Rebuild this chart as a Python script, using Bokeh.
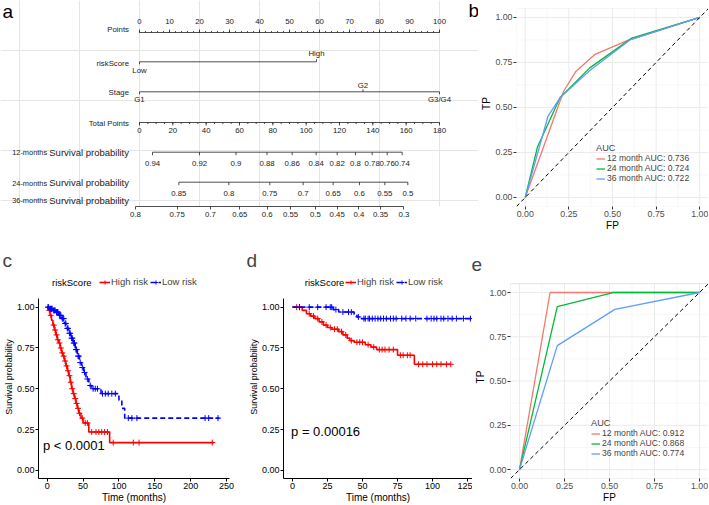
import numpy as np
from bokeh.plotting import figure
from bokeh.models import (Range1d, FixedTicker, PrintfTickFormatter, Legend, LegendItem,
                          Label, Slope, LinearAxis, BoxAnnotation)
from bokeh.layouts import row, column
from bokeh.embed import file_html
from bokeh.resources import INLINE
from bokeh.core.properties import value

SANS = "Liberation Sans"
INK = "#222222"

# ---------------- data: nomogram (a) ----------------
points_ticks = [0, 10, 20, 30, 40, 50, 60, 70, 80, 90, 100]
points_minor = list(range(0, 101, 2))
risk_levels = ["Low", "High"]
risk_points = [0, 59]
stage_levels = ["G1", "G2", "G3/G4"]
stage_points = [0, 74.5, 100]
total_ticks = [0, 20, 40, 60, 80, 100, 120, 140, 160, 180]
total_minor = list(range(0, 181, 5))
surv12_labels = ["0.94", "0.92", "0.9", "0.88", "0.86", "0.84", "0.82", "0.8", "0.78", "0.76", "0.74"]
surv12_total = [7.8, 36.0, 57.9, 76.5, 91.6, 106.0, 118.6, 129.6, 139.6, 148.6, 157.6]
surv24_labels = ["0.85", "0.8", "0.75", "0.7", "0.65", "0.6", "0.55", "0.5"]
surv24_total = [23.6, 53.6, 78.2, 98.2, 116.2, 132.0, 147.2, 161.0]
surv36_labels = ["0.8", "0.75", "0.7", "0.65", "0.6", "0.55", "0.5", "0.45", "0.4", "0.35", "0.3"]
surv36_total = [-2.4, 22.6, 42.6, 60.2, 76.6, 90.6, 105.6, 118.6, 131.6, 144.6, 158.6]

# ---------------- data: ROC (b, e) ----------------
roc_ticks = [0, 0.25, 0.5, 0.75, 1.0]
roc_minor = [0.125, 0.375, 0.625, 0.875]
roc_colors = ["#F8766D", "#00BA38", "#619CFF"]
b_labels = ["12 month AUC: 0.736", "24 month AUC: 0.724", "36 month AUC: 0.722"]
b12_fp = [0, 0.22, 0.29, 0.40, 0.58, 1.0]
b12_tp = [0, 0.59, 0.70, 0.795, 0.87, 1.0]
b24_fp = [0, 0.07, 0.20, 0.37, 0.61, 1.0]
b24_tp = [0, 0.28, 0.555, 0.72, 0.885, 1.0]
b36_fp = [0, 0.13, 0.20, 0.37, 0.60, 1.0]
b36_tp = [0, 0.45, 0.555, 0.705, 0.875, 1.0]
e_labels = ["12 month AUC: 0.912", "24 month AUC: 0.868", "36 month AUC: 0.774"]
e12_fp = [0, 0.17, 1.0]
e12_tp = [0, 1.0, 1.0]
e24_fp = [0, 0.21, 0.52, 1.0]
e24_tp = [0, 0.92, 1.0, 1.0]
e36_fp = [0, 0.21, 0.53, 1.0]
e36_tp = [0, 0.70, 0.905, 1.0]

# ---------------- data: Kaplan-Meier (c, d) ----------------
km_yticks = [0, 0.25, 0.5, 0.75, 1.0]
c_xticks = [0, 50, 100, 150, 200, 250]
d_xticks = [0, 25, 50, 75, 100, 125]
group_labels = ["High risk", "Low risk"]

c_high_time = [0, 2, 4, 6, 8, 10, 12, 14, 16, 18, 20, 22, 24, 26, 28, 30, 32, 34, 36, 38,
               40, 42, 44, 47, 50, 58, 87, 232]
c_high_surv = [1.0, 0.98, 0.95, 0.92, 0.89, 0.86, 0.83, 0.80, 0.78, 0.75, 0.72, 0.70, 0.67,
               0.64, 0.61, 0.58, 0.54, 0.50, 0.47, 0.44, 0.41, 0.38, 0.35, 0.32, 0.29, 0.235,
               0.17, 0.17]
c_high_cens = [3, 5, 9, 11, 13, 15, 17, 19, 21, 23, 25, 27, 29, 31, 33, 35, 37, 39, 41, 43,
               45, 49, 53, 56, 62, 68, 72, 76, 80, 84, 92, 120, 128, 230]
c_low_time = [0, 3, 8, 12, 16, 20, 24, 27, 30, 33, 36, 39, 42, 45, 48, 51, 54, 58, 62, 75,
              100, 104, 108, 240]
c_low_surv = [1.0, 0.99, 0.98, 0.97, 0.95, 0.93, 0.90, 0.87, 0.84, 0.81, 0.78, 0.74, 0.70,
              0.66, 0.63, 0.60, 0.56, 0.52, 0.50, 0.47, 0.43, 0.38, 0.32, 0.32]
c_low_cens = [1, 2, 4, 5, 6, 7, 9, 10, 11, 13, 14, 15, 17, 18, 19, 21, 22, 23, 25, 26, 28,
              29, 31, 32, 34, 35, 37, 38, 40, 41, 43, 44, 46, 49, 52, 56, 60, 64, 67, 70, 77,
              81, 85, 90, 95, 113, 118, 125, 220, 225, 238]

d_high_time = [0, 7, 10, 13, 16, 19, 22, 25, 28, 33, 36, 39, 41, 44, 52, 56, 60, 75, 87, 113]
d_high_surv = [1.0, 0.98, 0.96, 0.945, 0.93, 0.91, 0.89, 0.875, 0.865, 0.85, 0.83, 0.81,
               0.795, 0.785, 0.77, 0.755, 0.74, 0.705, 0.65, 0.65]
d_high_cens = [3, 5, 12, 15, 18, 21, 24, 27, 30, 32, 35, 38, 42, 46, 48, 50, 54, 58, 62, 64,
               66, 69, 72, 77, 79, 82, 84, 90, 93, 96, 100, 103, 106, 110, 113]
d_low_time = [0, 29, 33, 44, 46, 49, 127]
d_low_surv = [1.0, 0.985, 0.97, 0.955, 0.94, 0.93, 0.93]
d_low_cens = [5, 12, 18, 24, 27, 28, 31, 36, 40, 42, 47, 51, 52, 54, 55, 57, 59, 61, 63, 65,
              67, 70, 72, 74, 78, 81, 84, 88, 96, 99, 101, 103, 106, 108, 111, 114, 117,
              122, 127]


def surv_at(times, surv, t):
    idx = np.searchsorted(np.asarray(times), np.asarray(t), side="right") - 1
    return list(np.asarray(surv)[idx])


# ======================= panel a: nomogram =======================
nom = figure(width=478, height=234, x_range=Range1d(-46.333, 113.0), y_range=Range1d(206, 0),
             x_axis_location=None, y_axis_location=None, min_border_left=0,
             min_border_right=0, min_border_top=0, min_border_bottom=28,
             output_backend="svg", toolbar_location=None)
nom.outline_line_color = None
nom.extra_x_ranges = {"total": Range1d(-46.333 * 1.8, 113.0 * 1.8)}


def nomo_line(xs, y, rng="default"):
    nom.segment(x0=[min(xs)], x1=[max(xs)], y0=[y], y1=[y], line_color=INK,
                line_width=0.8, x_range_name=rng)


def nomo_ticks(xs, y, d, rng="default"):
    nom.segment(x0=xs, x1=xs, y0=[y] * len(xs), y1=[y + d] * len(xs), line_color=INK,
                line_width=0.8, x_range_name=rng)


def nomo_labels(xs, ys, labels, rng="default", align="center", size="7.8px"):
    nom.text(x=xs, y=ys, text=labels, text_align=align, x_range_name=rng,
             text_font=value(SANS), text_font_size=size, text_color=INK,
             text_baseline="middle")


# Points row
nomo_line(points_ticks, 32)
nomo_ticks(points_ticks, 32, -3)
nomo_ticks(points_minor, 32, -1.5)
nomo_labels(points_ticks, [20.5] * len(points_ticks), [str(v) for v in points_ticks])
# riskScore row
nomo_line(risk_points, 61.3)
nomo_ticks([risk_points[0]], 61.3, 2.5)
nomo_ticks([risk_points[1]], 61.3, -2.5)
nomo_labels(risk_points, [70, 52.5], risk_levels)
# Stage row
nomo_line(stage_points, 91.3)
nomo_ticks([stage_points[0], stage_points[2]], 91.3, 2.5)
nomo_ticks([stage_points[1]], 91.3, -2.5)
nomo_labels(stage_points, [99, 84.5, 99], stage_levels)
# Total points row
nomo_line(total_ticks, 122, "total")
nomo_ticks(total_ticks, 122, 3, "total")
nomo_ticks(total_minor, 122, 1.5, "total")
nomo_labels(total_ticks, [130] * len(total_ticks), [str(v) for v in total_ticks], "total")
# 12 / 24 months rows
for labs, tot, yl, yt in [(surv12_labels, surv12_total, 151.7, 163.3),
                          (surv24_labels, surv24_total, 181.7, 193.3)]:
    nomo_line(tot, yl, "total")
    nomo_ticks(tot, yl, 3, "total")
    nomo_labels(tot, [yt] * len(tot), labs, "total")
# 36 months row drawn as a real axis at the bottom of the nomogram
ax36 = LinearAxis(x_range_name="total", ticker=FixedTicker(ticks=surv36_total),
                  major_label_overrides={t: l for t, l in zip(surv36_total, surv36_labels)},
                  bounds=(min(surv36_total), max(surv36_total)))
ax36.axis_line_color = INK
ax36.axis_line_width = 0.8
ax36.major_tick_line_color = INK
ax36.major_tick_line_width = 0.8
ax36.major_tick_in = 0
ax36.major_tick_out = 3
ax36.minor_tick_line_color = None
ax36.major_label_standoff = 2
ax36.major_label_text_font = SANS
ax36.major_label_text_font_size = "7.8px"
ax36.major_label_text_color = INK
nom.add_layout(ax36, "below")

# row titles
nomo_labels([-3.5] * 4, [29.3, 62.7, 91.7, 123.3],
            ["Points", "riskScore", "Stage", "Total Points"], align="right")
nomo_labels([-3.5] * 3, [151.7, 182.3, 199.5], ["Survival probability"] * 3,
            align="right", size="9.5px")
nomo_labels([-30.8] * 3, [152.2, 182.8, 200.0],
            ["12-months", "24-months", "36-months"], align="right", size="7.4px")
# panel letters a and b (b sits left of panel b's axis)
nom.text(x=[-45.67, 109.67], y=[11, 10], text=["a", "b"], text_font=value(SANS),
         text_font_size="19px", text_color="black", text_baseline="middle",
         text_align="left")


# ======================= helpers =======================
def style_axes(p, color, fs="9px"):
    for ax in p.axis:
        ax.major_label_text_font = SANS
        ax.major_label_text_font_size = fs
        ax.major_label_text_color = color
        ax.axis_label_text_font = SANS
        ax.axis_label_text_font_size = "10px"
        ax.axis_label_text_font_style = "normal"
        ax.axis_label_text_color = "black"
        ax.major_tick_in = 0
        ax.major_tick_out = 3
        ax.minor_tick_line_color = None
        ax.major_label_standoff = 1
        ax.axis_label_standoff = 0


def set_letter(p, txt, offset):
    p.title.text = txt
    p.title.align = "left"
    p.title.offset = offset
    p.title.text_font = SANS
    p.title.text_font_size = "19px"
    p.title.text_font_style = "normal"
    p.title.vertical_align = "bottom"
    p.title.standoff = 10


def roc_panel(width, height, mb, y_end, series, labels, legend_loc, outline):
    p = figure(width=width, height=height, x_range=Range1d(-0.05, 1.05),
               y_range=Range1d(-0.05, y_end), min_border_left=mb[0], min_border_right=mb[1],
               min_border_top=mb[2], min_border_bottom=mb[3],
               output_backend="svg", toolbar_location=None)
    tk = FixedTicker(ticks=roc_ticks)
    p.xaxis.ticker = tk
    p.yaxis.ticker = tk
    p.xaxis.formatter = PrintfTickFormatter(format="%.2f")
    p.yaxis.formatter = PrintfTickFormatter(format="%.2f")
    p.xaxis.axis_label = "FP"
    p.yaxis.axis_label = "TP"
    style_axes(p, "#4D4D4D", "8.8px")
    for ax in p.axis:
        ax.axis_line_color = None
        ax.major_tick_line_color = "#333333"
    p.grid.visible = False
    p.outline_line_color = None
    # panel grid (kept inside the data panel)
    n1, n2 = len(roc_minor), len(roc_ticks)
    p.segment(x0=roc_minor, x1=roc_minor, y0=[-0.05] * n1, y1=[1.05] * n1,
              line_color="#F4F4F4", line_width=0.7)
    p.segment(x0=[-0.05] * n1, x1=[1.05] * n1, y0=roc_minor, y1=roc_minor,
              line_color="#F4F4F4", line_width=0.7)
    p.segment(x0=roc_ticks, x1=roc_ticks, y0=[-0.05] * n2, y1=[1.05] * n2,
              line_color="#EBEBEB", line_width=1)
    p.segment(x0=[-0.05] * n2, x1=[1.05] * n2, y0=roc_ticks, y1=roc_ticks,
              line_color="#EBEBEB", line_width=1)
    p.add_layout(BoxAnnotation(left=-0.05, right=1.05, bottom=-0.05, top=1.05,
                               fill_alpha=0, line_color=outline, line_width=1))
    items = []
    for (fp, tp), lab, col in zip(series, labels, roc_colors):
        r = p.line(fp, tp, line_color=col, line_width=1.3)
        items.append(LegendItem(label=lab, renderers=[r]))
    p.add_layout(Slope(gradient=1, y_intercept=0, line_color="black", line_dash="4 3",
                       line_width=1))
    leg = Legend(items=items, location=legend_loc, title="AUC", title_text_font=SANS,
                 title_text_font_size="9.2px", title_text_font_style="normal",
                 title_text_line_height=0.95, title_standoff=0,
                 label_text_font=SANS, label_text_font_size="8.6px",
                 label_text_line_height=0.9,
                 label_height=7, glyph_height=7, glyph_width=9, label_standoff=2,
                 spacing=0, padding=0, margin=0, border_line_color=None,
                 background_fill_alpha=0)
    p.add_layout(leg)
    return p


def km_panel(width, mb, x_range, xticks, high, low, legend_loc, rs_x, letter, loff):
    p = figure(width=width, height=271, x_range=Range1d(*x_range),
               y_range=Range1d(-0.05, 1.194), min_border_left=mb[0], min_border_right=mb[1],
               min_border_top=41, min_border_bottom=26, output_backend="svg",
               toolbar_location=None)
    p.grid.visible = False
    p.outline_line_color = None
    p.xaxis.ticker = FixedTicker(ticks=xticks)
    p.yaxis.ticker = FixedTicker(ticks=km_yticks)
    p.yaxis.formatter = PrintfTickFormatter(format="%.2f")
    p.yaxis.bounds = (-0.05, 1.05)
    p.xaxis.axis_label = "Time (months)"
    p.yaxis.axis_label = "Survival probability"
    style_axes(p, "black")
    for ax in p.axis:
        ax.axis_line_color = "black"
        ax.major_tick_line_color = "black"
    p.yaxis.axis_label_text_font_size = "9px"
    items = []
    for (tm, sv, cens), col, dash, lab in zip([high, low], ["#FF0000", "#0000FF"],
                                              ["solid", "5 3"], group_labels):
        r1 = p.step(x=tm, y=sv, mode="after", line_color=col, line_width=1.6, line_dash=dash)
        r2 = p.scatter(x=cens, y=surv_at(tm, sv, cens), marker="cross", size=6,
                       line_color=col, line_width=1)
        items.append(LegendItem(label=lab, renderers=[r1, r2]))
    leg = Legend(items=items, location=legend_loc, orientation="horizontal",
                 label_text_font=SANS, label_text_font_size="9.5px", glyph_width=11,
                 glyph_height=10, label_height=10, label_standoff=1, spacing=2,
                 padding=0, margin=0, border_line_color=None, background_fill_alpha=0)
    p.add_layout(leg)
    p.add_layout(Label(x=rs_x, y=1.151, text="riskScore", text_font=SANS,
                       text_font_size="9.5px", text_baseline="middle", text_align="left",
                       text_color="black"))
    set_letter(p, letter, loff)
    return p


# ======================= panel b =======================
pb = roc_panel(230, 234, (32, 0, 0, 28), 1.094,
               [(b12_fp, b12_tp), (b24_fp, b24_tp), (b36_fp, b36_tp)], b_labels,
               (80, 23), "#DDDDDD")

# ======================= panel c =======================
pc = km_panel(245, (31, 16), (-12.1, 254.0), c_xticks,
              (c_high_time, c_high_surv, c_high_cens), (c_low_time, c_low_surv, c_low_cens),
              (61, 191), 6.7, "c", -36)
pc.text(x=[-6], y=[0.155], text=["p < 0.0001"], text_font=value(SANS), text_font_size="13px",
        text_baseline="middle", text_align="left", text_color="black")

# ======================= panel d =======================
pd_ = km_panel(227, (31, 0), (-6.4, 128.5), d_xticks,
               (d_high_time, d_high_surv, d_high_cens), (d_low_time, d_low_surv, d_low_cens),
               (62, 191), 8.8, "d", -37)
pd_.text(x=[-1], y=[0.235], text=["p = 0.00016"], text_font=value(SANS),
         text_font_size="13px", text_baseline="middle", text_align="left", text_color="black")

# ======================= panel e =======================
pe = roc_panel(236, 271, (38, 0, 41, 26), 1.096,
               [(e12_fp, e12_tp), (e24_fp, e24_tp), (e36_fp, e36_tp)], e_labels,
               (81, 20), "#A6A6A6")
set_letter(pe, "e", -39)

layout = column(row(nom, pb), row(pc, pd_, pe))
open("out.html", "w").write(file_html(layout, INLINE, title="figure"))
